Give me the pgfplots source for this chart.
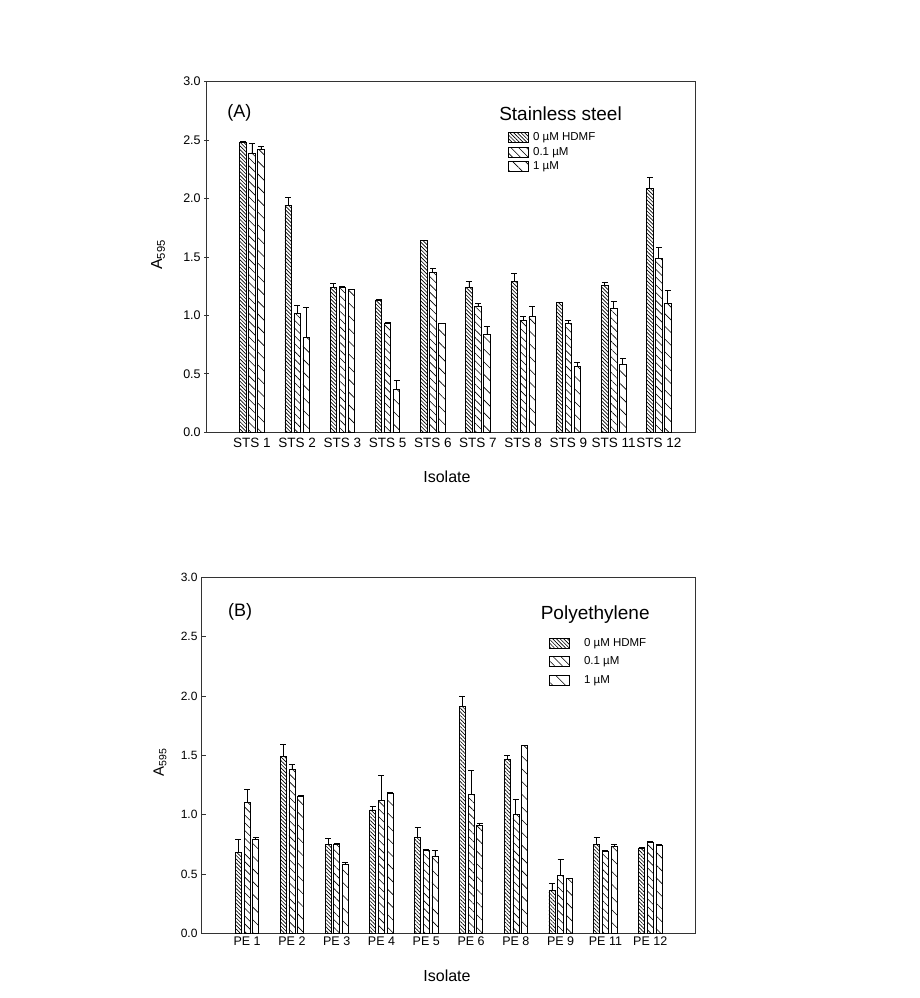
\documentclass[border=0pt]{standalone}
\usepackage{pgfplots}
\pgfplotsset{compat=1.18}
\usepackage{pgfplotstable}
\usepackage{fontspec}
\setmainfont{Liberation Sans}
\usetikzlibrary{patterns.meta}

\pgfplotstableread{
x a ea b eb c ec
0 2.48 0.01 2.39 0.08 2.42 0.03
1 1.94 0.07 1.02 0.07 0.81 0.26
2 1.24 0.03 1.24 0.01 1.22 0.005
3 1.13 0.005 0.93 0.01 0.37 0.07
4 1.64 0.005 1.37 0.03 0.93 0.005
5 1.24 0.05 1.08 0.02 0.84 0.07
6 1.29 0.07 0.96 0.03 0.99 0.09
7 1.11 0.005 0.93 0.03 0.56 0.04
8 1.26 0.02 1.06 0.06 0.58 0.05
9 2.09 0.09 1.49 0.09 1.10 0.11
}\tA

\pgfplotstableread{
x a ea b eb c ec
0 0.68 0.11 1.10 0.11 0.79 0.02
1 1.49 0.10 1.38 0.04 1.15 0.01
2 0.75 0.05 0.75 0.01 0.58 0.02
3 1.04 0.03 1.12 0.21 1.18 0.01
4 0.81 0.08 0.70 0.005 0.65 0.05
5 1.91 0.09 1.17 0.20 0.91 0.02
6 1.47 0.03 1.00 0.13 1.58 0.005
7 0.36 0.06 0.49 0.13 0.46 0.005
8 0.75 0.06 0.69 0.005 0.73 0.02
9 0.72 0.005 0.77 0.005 0.74 0.005
}\tB

\pgfplotsset{
  common/.style={
    scale only axis, anchor=south west,
    ymin=0, ymax=3,
    ytick={0,0.5,1,1.5,2,2.5,3},
    yticklabel style={/pgf/number format/.cd, fixed, fixed zerofill, precision=1},
    /pgf/number format/assume math mode=true,
    ytick pos=left,
    xtick={0,1,2,3,4,5,6,7,8,9},
    x tick style={draw=none},
    major tick length=5pt,
    y tick style={black!80, line width=0.8pt},
    axis line style={black!80, line width=0.9pt},
    ybar,
    legend image code/.code={\draw[#1, line width=0.8pt] (0pt,-5pt) rectangle (20pt,5pt);},
  },
  ebar/.style={error bars/.cd, y dir=plus, y explicit,
    error mark=|,
    error bar style={black, line width=0.8pt},
    error mark options={black, line width=0.8pt, mark size=3pt}},
  p0/.style={draw=black, line width=0.7pt, pattern={Lines[angle=-45,distance=2.6pt,line width=0.65pt]}},
  p1/.style={draw=black, line width=0.7pt, pattern={Lines[angle=-45,distance=5.5pt,line width=0.6pt]}},
  p2/.style={draw=black, line width=0.7pt, pattern={Lines[angle=-45,distance=9pt,line width=0.6pt]}},
}

\begin{document}
\begin{tikzpicture}
\path (0pt,0pt) rectangle (920pt,998pt);

% Panel A
\begin{axis}[common,
  at={(206.7pt,565.7pt)}, width=488.3pt, height=350.6pt,
  xmin=-1, xmax=9.8,
  tick align=center,
  bar width=6.5pt,
  tick label style={font=\fontsize{12.5}{14}\selectfont},
  xticklabels={STS 1,STS 2,STS 3,STS 5,STS 6,STS 7,STS 8,STS 9,STS 11,STS 12},
  xticklabel style={font=\fontsize{13.5}{15}\selectfont},
  xlabel={Isolate},
  xlabel style={font=\fontsize{16}{18}\selectfont, at={(axis description cs:0.492,-0.1275)}, anchor=center},
  ylabel={A\textsubscript{595}},
  ylabel style={font=\fontsize{16}{18}\selectfont, at={(axis description cs:-0.0997,0.506)}, anchor=center},
  legend style={at={(axis description cs:0.6177,0.857)}, anchor=north west, draw=none, fill=none,
    inner sep=0pt, outer sep=0pt, font=\fontsize{11.5}{12}\selectfont,
    nodes={inner sep=0pt, text height=8pt, text depth=2pt},
    /tikz/column sep=4pt, /tikz/row sep=4pt},
  legend cell align=left,
]
\addplot[p0, bar shift=-9pt, ebar] table[x=x, y=a, y error=ea] {\tA};
\addplot[p1, bar shift=0pt, ebar] table[x=x, y=b, y error=eb] {\tA};
\addplot[p2, bar shift=9pt, ebar] table[x=x, y=c, y error=ec] {\tA};
\legend{0 µM HDMF, 0.1 µM, 1 µM}
\node[anchor=west, inner sep=0pt, font=\fontsize{18}{20}\selectfont] at (axis description cs:0.042,0.910) {(A)};
\node[anchor=center, inner sep=0pt, font=\fontsize{19}{22}\selectfont] at (axis description cs:0.7246,0.910) {Stainless steel};
\end{axis}

% Panel B
\begin{axis}[common,
  at={(201pt,64.7pt)}, width=494pt, height=356pt,
  xmin=-1.03, xmax=10,
  tick align=inside,
  bar width=6pt,
  tick label style={font=\fontsize{12}{14}\selectfont},
  xticklabels={PE 1,PE 2,PE 3,PE 4,PE 5,PE 6,PE 8,PE 9,PE 11,PE 12},
  xticklabel style={font=\fontsize{12.5}{14}\selectfont},
  xlabel={Isolate},
  xlabel style={font=\fontsize{16}{18}\selectfont, at={(axis description cs:0.498,-0.12)}, anchor=center},
  ylabel={A\textsubscript{595}},
  ylabel style={font=\fontsize{15}{18}\selectfont, at={(axis description cs:-0.083,0.481)}, anchor=center},
  legend style={at={(axis description cs:0.705,0.829)}, anchor=north west, draw=none, fill=none,
    inner sep=0pt, outer sep=0pt, font=\fontsize{11.5}{12}\selectfont,
    nodes={inner sep=0pt, text height=8pt, text depth=2pt},
    /tikz/column sep=14pt, /tikz/row sep=7.5pt},
  legend cell align=left,
]
\addplot[p0, bar shift=-8.7pt, ebar] table[x=x, y=a, y error=ea] {\tB};
\addplot[p1, bar shift=0pt, ebar] table[x=x, y=b, y error=eb] {\tB};
\addplot[p2, bar shift=8.7pt, ebar] table[x=x, y=c, y error=ec] {\tB};
\legend{0 µM HDMF, 0.1 µM, 1 µM}
\node[anchor=west, inner sep=0pt, font=\fontsize{18}{20}\selectfont] at (axis description cs:0.0547,0.903) {(B)};
\node[anchor=center, inner sep=0pt, font=\fontsize{19}{22}\selectfont] at (axis description cs:0.798,0.894) {Polyethylene};
\end{axis}
\end{tikzpicture}
\end{document}
